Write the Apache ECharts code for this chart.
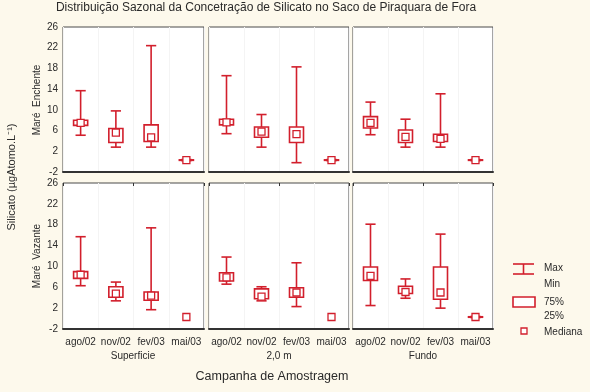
<!DOCTYPE html>
<html><head><meta charset="utf-8">
<script src="https://cdn.jsdelivr.net/npm/echarts@6/dist/echarts.min.js"></script>
<style>html,body{margin:0;padding:0;background:#fdf9ec;}#c{width:590px;height:392px;}</style>
</head><body><div id="c"></div>
<script>
const categories = ['ago/02','nov/02','fev/03','mai/03'];
const depths = ['Superficie','2,0 m','Fundo'];
const tides = ['Maré  Enchente','Maré  Vazante'];
const yMin = -2, yMax = 26, yStep = 4;
// each entry: [min, q25, median, q75, max]
const enchenteSuperficie = [[5.1,7.0,7.5,8.0,13.7],[2.8,3.7,5.6,6.4,9.8],[2.8,3.9,4.7,7.1,22.4],[0.2,0.25,0.3,0.35,0.4]];
const enchente2m        = [[5.4,7.1,7.6,8.2,16.6],[2.8,4.7,5.8,6.7,9.1],[-0.2,3.7,5.3,6.7,18.3],[0.2,0.25,0.3,0.35,0.4]];
const enchenteFundo     = [[5.2,6.5,7.5,8.7,11.5],[2.8,3.7,4.8,6.1,8.2],[2.8,3.9,4.4,5.3,13.1],[0.2,0.25,0.3,0.35,0.4]];
const vazanteSuperficie = [[6.3,7.7,8.4,9.0,15.7],[3.4,4.1,4.8,6.1,7.0],[1.7,3.5,4.4,5.1,17.4],[0.3,0.3,0.3,0.3,0.3]];
const vazante2m         = [[6.6,7.2,7.9,8.8,11.8],[3.4,3.8,4.2,5.7,6.1],[2.3,4.1,5.0,5.9,10.7],[0.3,0.3,0.3,0.3,0.3]];
const vazanteFundo      = [[2.5,7.3,8.2,9.9,18.1],[3.9,4.8,5.1,6.2,7.6],[2.0,3.7,5.0,9.9,16.2],[0.2,0.25,0.3,0.35,0.4]];
const panels = [enchenteSuperficie, enchente2m, enchenteFundo, vazanteSuperficie, vazante2m, vazanteFundo];

const RED = '#d21f2c';
const FONT = 'Liberation Sans';
const TXT = '#2a2a2a';
const lefts = [63, 209, 353], widths = [141, 140, 140];
const tops = [27, 183], heights = [145, 146];

const grids = [], xAxes = [], yAxes = [], series = [];
panels.forEach((p, i) => {
  const row = Math.floor(i / 3), col = i % 3;
  grids.push({left: lefts[col], top: tops[row], width: widths[col], height: heights[row],
    show: true, backgroundColor: '#ffffff', borderColor: '#4a4a4a', borderWidth: 1});
  xAxes.push({type: 'category', gridIndex: i, data: categories, boundaryGap: true,
    axisLine: {show: true, onZero: false, lineStyle: {color: '#333', width: 2}},
    axisTick: {show: false},
    splitLine: {show: true, lineStyle: {color: '#f4f4f4', width: 1}},
    axisLabel: {show: row === 1, fontFamily: FONT, fontSize: 10, color: TXT, margin: 8, interval: 0}});
  yAxes.push({type: 'value', gridIndex: i, min: yMin, max: yMax, interval: yStep,
    axisLine: {show: false}, axisTick: {show: false}, splitLine: {show: false},
    axisLabel: {show: col === 0, fontFamily: FONT, fontSize: 10, color: TXT, margin: 5}});
  series.push({type: 'custom', xAxisIndex: i, yAxisIndex: i,
    data: p.map((d, k) => [k].concat(d)),
    renderItem: function (params, api) {
      const x = api.value(0);
      const band = api.size([1, 0])[0];
      const pMin = api.coord([x, api.value(1)]);
      const pQ1 = api.coord([x, api.value(2)]);
      const pMed = api.coord([x, api.value(3)]);
      const pQ3 = api.coord([x, api.value(4)]);
      const pMax = api.coord([x, api.value(5)]);
      const cx = pMed[0];
      const bw = band * 0.4, cw = band * 0.29, ms = 7;
      const st = {stroke: RED, lineWidth: 1.6, fill: null};
      const ch = [];
      if (api.value(5) > api.value(1)) {
        ch.push({type: 'line', shape: {x1: cx, y1: pMax[1], x2: cx, y2: pMin[1]}, style: st});
        ch.push({type: 'line', shape: {x1: cx - cw / 2, y1: pMax[1], x2: cx + cw / 2, y2: pMax[1]}, style: st});
        ch.push({type: 'line', shape: {x1: cx - cw / 2, y1: pMin[1], x2: cx + cw / 2, y2: pMin[1]}, style: st});
      }
      if (api.value(4) > api.value(2)) {
        ch.push({type: 'rect', shape: {x: cx - bw / 2, y: pQ3[1], width: bw, height: pQ1[1] - pQ3[1]},
          style: {stroke: RED, lineWidth: 1.6, fill: '#ffffff'}});
      }
      ch.push({type: 'rect', shape: {x: cx - ms / 2, y: pMed[1] - ms / 2, width: ms, height: ms},
        style: {stroke: RED, lineWidth: 1.3, fill: '#ffffff'}});
      return {type: 'group', children: ch};
    }});
});
// top inner ticks for bottom row
[3, 4, 5].forEach(i => {
  xAxes.push({type: 'category', gridIndex: i, data: categories, boundaryGap: true, position: 'top',
    axisLine: {show: false, onZero: false}, axisLabel: {show: false}, splitLine: {show: false},
    axisTick: {show: true, inside: true, length: 3, lineStyle: {color: '#333'}}});
});

const txt = (x, y, text, size, opts) => Object.assign({type: 'text', x: x, y: y,
  style: {text: text, font: size + 'px "' + FONT + '"', fill: TXT, textAlign: 'center', textVerticalAlign: 'middle'}}, opts || {});
const ltxt = (x, y, text) => ({type: 'text', x: x, y: y,
  style: {text: text, font: '10px "' + FONT + '"', fill: TXT, textAlign: 'left', textVerticalAlign: 'middle'}});
const graphics = [
  txt(266, 8, 'Distribuição Sazonal da Concetração de Silicato no Saco de Piraquara de Fora', 12),
  txt(12, 177, 'Silicato (µgAtomo.L⁻¹)', 11, {rotation: Math.PI / 2}),
  txt(37, 100, tides[0], 10, {rotation: Math.PI / 2}),
  txt(37, 256, tides[1], 10, {rotation: Math.PI / 2}),
  txt(133, 356, depths[0], 10), txt(279, 356, depths[1], 10), txt(423, 356, depths[2], 10),
  txt(272, 377, 'Campanha de Amostragem', 12.5),
  // legend
  {type: 'line', shape: {x1: 513, y1: 264, x2: 534, y2: 264}, style: {stroke: RED, lineWidth: 1.6}},
  {type: 'line', shape: {x1: 513, y1: 274, x2: 534, y2: 274}, style: {stroke: RED, lineWidth: 1.6}},
  {type: 'line', shape: {x1: 523.5, y1: 264, x2: 523.5, y2: 274}, style: {stroke: RED, lineWidth: 1.6}},
  ltxt(544, 268, 'Max'),
  ltxt(544, 284, 'Min'),
  {type: 'rect', shape: {x: 513, y: 297, width: 22, height: 10}, style: {stroke: RED, lineWidth: 1.6, fill: '#fff'}},
  ltxt(544, 302, '75%'),
  ltxt(544, 316, '25%'),
  {type: 'rect', shape: {x: 521, y: 328, width: 6, height: 6}, style: {stroke: RED, lineWidth: 1.3, fill: '#fff'}},
  ltxt(544, 332, 'Mediana')
];

const chart = echarts.init(document.getElementById('c'), null, {renderer: 'canvas'});
chart.setOption({backgroundColor: '#fdf9ec', animation: false,
  grid: grids, xAxis: xAxes, yAxis: yAxes, series: series, graphic: graphics});
</script></body></html>
